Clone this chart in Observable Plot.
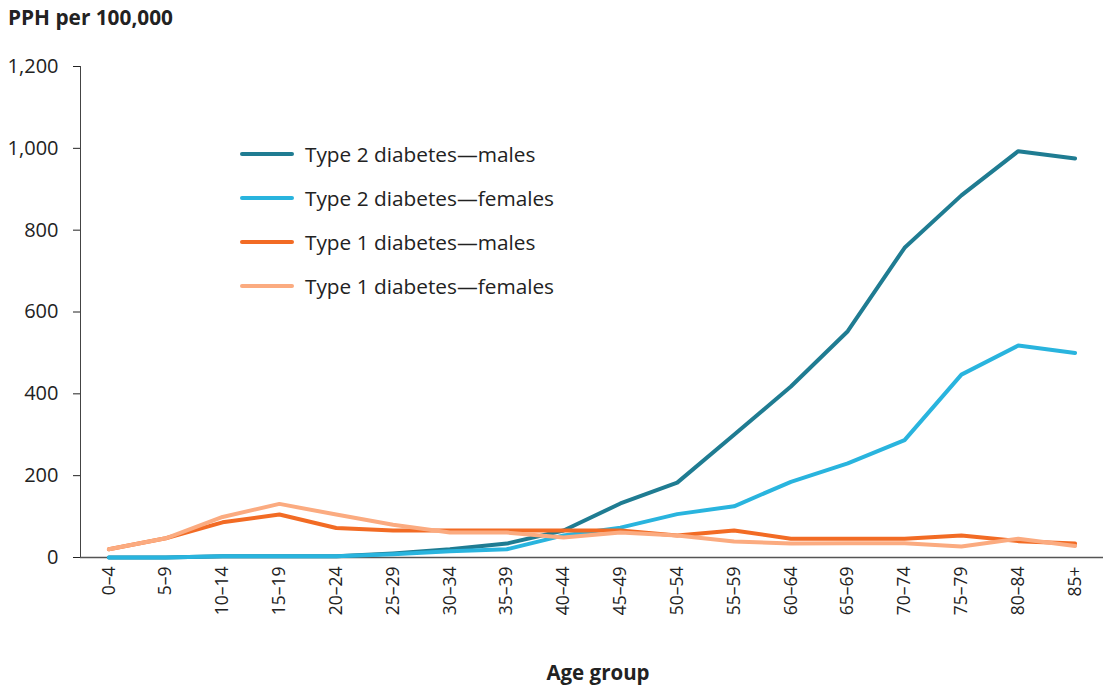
<!DOCTYPE html>
<html>
<head>
<meta charset="utf-8">
<script src="https://cdn.jsdelivr.net/npm/d3@7"></script>
<script src="https://cdn.jsdelivr.net/npm/@observablehq/plot@0.6"></script>
<style>
  html, body { margin: 0; padding: 0; background: #fff; }
  body { width: 1108px; height: 689px; overflow: hidden; font-family: "Open Sans", sans-serif; color: #222; position: relative; }
  #title { height: 40px; font-weight: 700; font-size: 20.8px; line-height: 34px; padding-left: 8px; box-sizing: border-box; }
  #xlabel { margin-left: 80px; width: 1036px; text-align: center; font-weight: 700; font-size: 20.5px; height: 39px; line-height: 44px; }
  #legend { position: absolute; left: 240px; top: 132px; font-size: 20.8px; }
  #legend .row { display: flex; align-items: center; height: 44px; }
  #legend svg { margin-right: 11px; }
</style>
</head>
<body>
<div id="title">PPH per 100,000</div>
<div id="chart"></div>
<div id="xlabel">Age group</div>
<div id="legend"></div>
<script>
const ageGroups = ["0–4","5–9","10–14","15–19","20–24","25–29","30–34","35–39","40–44","45–49","50–54","55–59","60–64","65–69","70–74","75–79","80–84","85+"];
const seriesNames = ["Type 2 diabetes—males","Type 2 diabetes—females","Type 1 diabetes—males","Type 1 diabetes—females"];
const seriesColors = ["#1f7c92","#29b4de","#f26b24","#fbab80"];
const type2Males   = [0, 0, 3, 3, 3, 10, 20, 34, 66, 132, 183, 300, 418, 553, 757, 885, 993, 975];
const type2Females = [0, 0, 3, 3, 3, 8, 15, 20, 54, 73, 106, 125, 185, 230, 287, 447, 518, 500];
const type1Males   = [20, 47, 86, 105, 72, 66, 66, 66, 66, 66, 54, 66, 46, 46, 46, 54, 40, 34];
const type1Females = [20, 47, 99, 131, 105, 80, 61, 61, 49, 61, 54, 39, 34, 35, 35, 27, 46, 28];
const yTicks = [0, 200, 400, 600, 800, 1000, 1200];

const allSeries = [type2Males, type2Females, type1Males, type1Females];
const rows = [];
allSeries.forEach((vals, si) => vals.forEach((v, i) => rows.push({age: ageGroups[i], value: v, series: seriesNames[si]})));

const plot = Plot.plot({
  width: 1108,
  height: 610,
  marginTop: 26,
  marginBottom: 93,
  marginLeft: 80,
  marginRight: 5,
  style: {fontFamily: "Open Sans, sans-serif", fontSize: "17px", color: "#222"},
  x: {type: "point", domain: ageGroups, padding: 0.5, round: false},
  y: {domain: [0, 1200]},
  color: {domain: seriesNames, range: seriesColors},
  marks: [
    Plot.axisY({ticks: yTicks, tickFormat: d3.format(","), tickSize: 7, tickPadding: 15, label: null, fontSize: 20}),
    Plot.axisX({tickSize: 0, tickPadding: 9, tickRotate: -90, label: null, fontSize: 17.5}),
    Plot.frame({anchor: "left", stroke: "#444"}),
    Plot.ruleY([0], {stroke: "#555", strokeWidth: 1.5}),
    Plot.line(rows, {x: "age", y: "value", z: "series", stroke: "series", strokeWidth: 4, curve: "linear"})
  ]
});
document.getElementById("chart").appendChild(plot);

const legend = document.getElementById("legend");
seriesNames.forEach((name, i) => {
  const row = document.createElement("div");
  row.className = "row";
  row.innerHTML = `<svg width="54" height="6"><line x1="2" y1="3" x2="52" y2="3" stroke="${seriesColors[i]}" stroke-width="4" stroke-linecap="round"/></svg><span>${name}</span>`;
  legend.appendChild(row);
});
</script>
</body>
</html>
